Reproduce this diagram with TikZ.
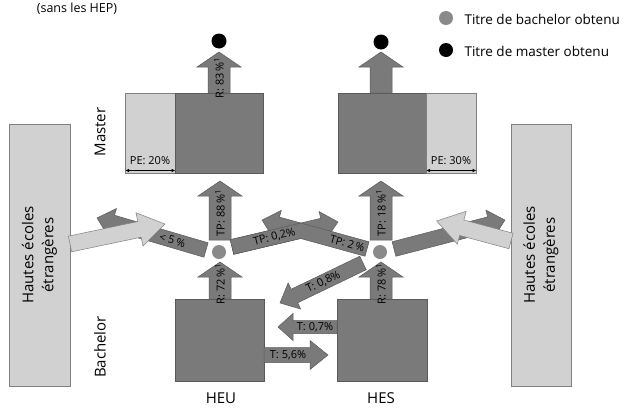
\documentclass[tikz,border=0pt]{standalone}
\usepackage{fontspec}
\setmainfont{Open Sans}
\usetikzlibrary{arrows.meta}

\definecolor{darkgrey}{RGB}{122,122,122}
\definecolor{lightgrey}{RGB}{209,209,209}
\definecolor{edgegrey}{RGB}{90,90,90}
\definecolor{dotgrey}{RGB}{138,138,138}

\tikzset{
  halfshaft/.store in=\aw, halfhead/.store in=\aH, headlength/.store in=\ah,
  halfshaft=7.5, halfhead=14.5, headlength=16,
  bigarrow/.style={halfshaft=11, halfhead=22, headlength=15},
  arrowbody/.style={fill=darkgrey, draw=edgegrey, line width=0.5pt},
  arrowlabel/.style={transform shape, inner sep=0pt, font=\fontsize{11}{13}\selectfont},
  flipped/.style={arrowlabel/.append style={rotate=180}},
  pale/.style={arrowbody/.append style={fill=lightgrey, draw=gray}},
  pics/fatarrow/.style n args={3}{code={
    \path[arrowbody] (0,\aw) -- ({#1-\ah},\aw) -- ({#1-\ah},\aH) -- (#1,0)
      -- ({#1-\ah},-\aH) -- ({#1-\ah},-\aw) -- (0,-\aw) -- cycle;
    \node[arrowlabel] (-label) at (#2,0) {#3};
  }},
  darkbox/.style={draw=edgegrey, fill=darkgrey, line width=0.5pt, inner sep=0pt},
  lightbox/.style={draw=gray, fill=lightgrey, line width=0.5pt, inner sep=0pt},
  bullet/.style={circle, fill=#1, inner sep=0pt, minimum size=14pt},
  levellabel/.style={font=\fontsize{15}{20}\selectfont},
  legendtext/.style={anchor=west, font=\fontsize{13.5}{16}\selectfont},
  petext/.style={font=\fontsize{11}{13}\selectfont, inner sep=0pt},
  pespan/.style={{Latex[length=4pt,width=3.5pt]}-{Latex[length=4pt,width=3.5pt]}, line width=0.8pt},
}

\begin{document}
\begin{tikzpicture}[x=1pt,y=-1pt]
\useasboundingbox (0,0) rectangle (628,410);

\node[font=\fontsize{12.5}{15}\selectfont] (note) at (77,9) {(sans les HEP)};

% legende
\node[bullet=dotgrey] (lgbach) at (446,18) {};
\node[legendtext] (lgbachtext) at (461,19) {Titre de bachelor obtenu};
\node[bullet=black] (lgmast) at (446,50) {};
\node[legendtext] (lgmasttext) at (461,51) {Titre de master obtenu};

% hautes ecoles etrangeres
\node[lightbox, rotate=90, minimum width=262pt, minimum height=61pt, align=center, levellabel] (hel) at (39.5,255) {Hautes écoles\\étrangères};
\node[lightbox, rotate=90, minimum width=262pt, minimum height=60pt, align=center, levellabel] (her) at (541,255) {Hautes écoles\\étrangères};

\node[levellabel, rotate=90] (master) at (100,132) {Master};
\node[levellabel, rotate=90] (bachelor) at (100,347) {Bachelor};

% master
\node[lightbox, anchor=north west, minimum width=50pt, minimum height=80pt] (pe20) at (125,93) {};
\node[darkbox, anchor=north west, minimum width=88pt, minimum height=80pt] (mheu) at (175,93) {};
\node[darkbox, anchor=north west, minimum width=88pt, minimum height=80pt] (mhes) at (338,93) {};
\node[lightbox, anchor=north west, minimum width=50pt, minimum height=80pt] (pe30) at (426,93) {};

\draw[pespan] ([yshift=3pt]pe20.south west) -- ([yshift=3pt]pe20.south east);
\draw[pespan] ([yshift=3pt]pe30.south west) -- ([yshift=3pt]pe30.south east);
\node[petext] (pe20text) at (150,161) {PE: 20\%};
\node[petext] (pe30text) at (451,161) {PE: 30\%};

% bachelor
\node[darkbox, anchor=north west, minimum width=89pt, minimum height=82pt] (bheu) at (175,299) {};
\node[darkbox, anchor=north west, minimum width=90pt, minimum height=82pt] (bhes) at (337,299) {};
\node[levellabel] (heu) at (221,398) {HEU};
\node[levellabel] (hes) at (381,398) {HES};

% fleches verticales
\pic[rotate=90, bigarrow] (r83) at (219,93) {fatarrow={41}{15}{R: 83\,\%\textsuperscript{1}}};
\pic[rotate=90, bigarrow] (rmhes) at (381,93) {fatarrow={41}{15}{}};
\pic[rotate=90, bigarrow] (tp88) at (220,240) {fatarrow={59}{27}{TP: 88\,\%\textsuperscript{1}}};
\pic[rotate=90, bigarrow] (tp18) at (381,240) {fatarrow={59}{27}{TP: 18\,\%\textsuperscript{1}}};
\pic[rotate=90, bigarrow] (r72) at (220,299) {fatarrow={37}{15}{R: 72\,\%\textsuperscript{1}}};
\pic[rotate=90, bigarrow] (r78) at (381,299) {fatarrow={37}{15}{R: 78\,\%\textsuperscript{1}}};

% vers et depuis l'etranger
\pic[rotate=163.6, flipped] (lt5) at (206,250) {fatarrow={113.6}{35}{< 5\,\%}};
\pic[rotate=14.6] (outhes) at (394,249) {fatarrow={114.7}{50}{}};
\pic[rotate=11.9, pale, halfshaft=8, halfhead=17, headlength=26] (inheu) at (70,244) {fatarrow={97}{40}{}};
\pic[rotate=164.9, pale, halfshaft=8, halfhead=17, headlength=26] (inhes) at (511,241) {fatarrow={77}{30}{}};

% transitions (les deux fleches se croisent)
\pic[rotate=13.3] at (232,247) {fatarrow={108.9}{43.5}{}};
\pic[rotate=164.6, flipped] (tp2) at (367,249) {fatarrow={108.9}{20.5}{TP: 2\,\%}};
\begin{scope}
  \clip (0,0) rectangle (301,410);
  \pic[rotate=13.3] (tp02) at (232,247) {fatarrow={108.9}{43.5}{TP: 0,2\%}};
\end{scope}
\pic[rotate=205.7, flipped] (t08) at (363,263) {fatarrow={92.1}{44}{T: 0,8\%}};
\pic[rotate=180, flipped, halfshaft=6.5, halfhead=13.5, headlength=15] (t07) at (337,327) {fatarrow={59}{22}{T: 0,7\%}};
\pic[headlength=18] (t56) at (264,355) {fatarrow={64}{24}{T: 5,6\%}};

% titres obtenus
\node[bullet=dotgrey] (bheudot) at (219,252) {};
\node[bullet=dotgrey] (bhesdot) at (380,252) {};
\node[bullet=black, minimum size=15pt] (mheudot) at (219,41) {};
\node[bullet=black, minimum size=15pt] (mhesdot) at (381,42) {};
\end{tikzpicture}
\end{document}
